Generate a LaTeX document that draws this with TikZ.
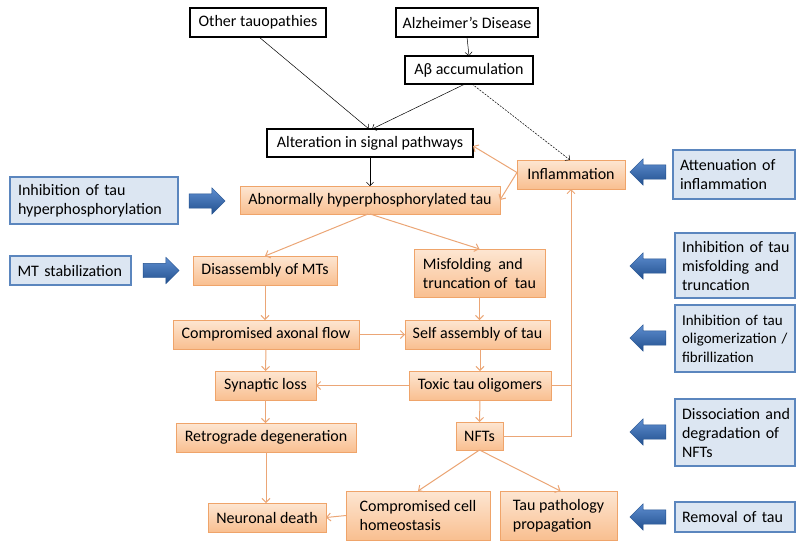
\documentclass[tikz,border=0pt]{standalone}
\usepackage{fontspec}
\setmainfont{Carlito}
\usetikzlibrary{shapes.arrows,arrows.meta,shadows}
\definecolor{obord}{HTML}{EFA46A}
\definecolor{otop}{HTML}{FDE6D2}
\definecolor{obot}{HTML}{F9BF90}
\definecolor{oline}{HTML}{EBA676}
\definecolor{bbord}{HTML}{5B86BE}
\definecolor{bfill}{HTML}{DCE6F2}
\definecolor{barrtop}{HTML}{5E8ED0}
\definecolor{barrbot}{HTML}{22508E}
\begin{document}
\begin{tikzpicture}[x=1pt,y=-1pt,
  every node/.style={font=\fontsize{16}{19}\selectfont, inner sep=0pt, outer sep=0pt},
  blk/.style={draw=black, line width=1.7pt, fill=white},
  obox/.style={draw=obord, line width=0.8pt, top color=otop, bottom color=obot,
    drop shadow={opacity=0.25, shadow xshift=1.2pt, shadow yshift=-1.2pt}},
  bbox/.style={draw=bbord, line width=1.3pt, fill=bfill, align=left, text width=#1},
  barr/.style={single arrow, single arrow head extend=6pt, inner xsep=0pt, inner ysep=7pt, minimum height=36pt,
    top color=barrtop, bottom color=barrbot, draw=barrbot, line width=0.4pt},
  karr/.style={-{Straight Barb[length=3.5pt,width=7pt]}, line width=0.5pt, black},
  oarr/.style={-{Straight Barb[length=4pt,width=8pt]}, line width=1pt, oline},
  oln/.style={line width=1pt, oline}
]
\useasboundingbox (0,0) rectangle (796,542);

% black boxes
\node[blk, minimum width=136pt, minimum height=29pt] (oth) at (258,22.5) {Other tauopathies};
\node[blk, minimum width=142pt, minimum height=29pt] (alz) at (467,22.5) {Alzheimer’s Disease};
\node[blk, minimum width=128pt, minimum height=28pt] (abeta) at (469,70) {Aβ accumulation};
\node[blk, minimum width=206pt, minimum height=28pt] (alt) at (370,143) {Alteration in signal pathways};

% orange boxes
\node[obox, minimum width=108pt, minimum height=29pt] (infl) at (571,174.5) {Inflammation};
\node[obox, minimum width=260pt, minimum height=28pt] (abn) at (370,200) {Abnormally hyperphosphorylated tau};
\node[obox, minimum width=144pt, minimum height=29pt] (dis) at (265,270.5) {Disassembly of MTs};
\node[obox, minimum width=131pt, minimum height=48pt, align=left] (mis) at (479.5,273) {Misfolding~~and\\truncation of~~tau};
\node[obox, minimum width=186pt, minimum height=29pt] (axf) at (266,334.5) {Compromised axonal flow};
\node[obox, minimum width=145pt, minimum height=29pt] (self) at (477.5,334.5) {Self assembly of tau};
\node[obox, minimum width=101pt, minimum height=29pt] (syn) at (265.5,385.5) {Synaptic loss};
\node[obox, minimum width=142pt, minimum height=29pt] (tox) at (480,385.5) {Toxic tau oligomers};
\node[obox, minimum width=180pt, minimum height=29pt] (retro) at (266,437.5) {Retrograde degeneration};
\node[obox, minimum width=47pt, minimum height=28pt] (nft) at (479.5,436) {NFTs};
\node[obox, minimum width=118pt, minimum height=29pt] (death) at (267,517.5) {Neuronal death};
\node[obox, minimum width=144pt, minimum height=49pt, align=left] (cch) at (418,515.5) {Compromised cell\\homeostasis};
\node[obox, minimum width=117pt, minimum height=49pt, align=left] (tpp) at (558.5,515.5) {Tau pathology\\propagation};

% blue boxes
\node[bbox=152pt, minimum width=168pt, minimum height=47pt] (ihyp) at (94,200.5) {Inhibition of tau\\hyperphosphorylation};
\node[bbox=106pt, minimum width=121pt, minimum height=29pt] (mts) at (70.5,270.5) {MT stabilization};
\node[bbox=108pt, minimum width=122pt, minimum height=49pt] (att) at (734,174.5) {Attenuation of\\inflammation};
\node[bbox=106pt, minimum width=120pt, minimum height=65pt] (imis) at (735,265.5) {Inhibition~of~tau\\misfolding~and\\truncation};
\node[bbox=106pt, minimum width=120pt, minimum height=67pt, font=\fontsize{15}{18.5}\selectfont] (iolig) at (735,338.5) {Inhibition~of~tau\\oligomerization~/\\fibrillization};
\node[bbox=106pt, minimum width=120pt, minimum height=67pt] (diss) at (735,432.5) {Dissociation~and\\degradation~of\\NFTs};
\node[bbox=106pt, minimum width=120pt, minimum height=30pt] (rem) at (735,517) {Removal of tau};

% blue block arrows
\node[barr] (ba1) at (203.5,201) {};
\node[barr] (ba2) at (157.5,270.5) {};
\node[barr, shape border rotate=180] (ba3) at (651.5,172) {};
\node[barr, shape border rotate=180] (ba4) at (651.5,266) {};
\node[barr, shape border rotate=180] (ba5) at (651.5,338) {};
\node[barr, shape border rotate=180] (ba6) at (651.5,432) {};
\node[barr, shape border rotate=180] (ba7) at (651.5,517) {};

% black connectors
\draw[karr] ([xshift=1pt]oth.south) -- ([xshift=-1pt]alt.north);
\draw[karr] (alz.south) -- (abeta.north);
\draw[karr] ([xshift=-4pt]abeta.south) -- ([xshift=2pt]alt.north);
\draw[karr, dashed, dash pattern=on 2pt off 1.2pt] ([xshift=3pt]abeta.south) -- ([xshift=-1pt]infl.north);
\draw[karr] (alt.south) -- (abn.north);

% orange connectors
\coordinate (iw) at ([yshift=2pt]infl.west);
\draw[oarr] (iw) -- ([yshift=-3pt]alt.east);
\draw[oarr] (iw) -- (abn.east);
\draw[oarr] ([xshift=-2pt]abn.south) -- (dis.north);
\draw[oarr] (abn.south) -- (mis.north);
\draw[oarr] (dis.south) -- ([xshift=-1pt]axf.north);
\draw[oarr] (mis.south) -- ([xshift=2pt]self.north);
\draw[oarr] (axf.east) -- (self.west);
\draw[oarr] (axf.south) -- (syn.north);
\draw[oarr] ([xshift=2.5pt]self.south) -- (tox.north);
\draw[oarr] (tox.west) -- (syn.east);
\draw[oarr] (tox.south) -- (nft.north);
\draw[oarr] (syn.south) -- ([xshift=-0.5pt]retro.north);
\draw[oarr] (retro.south) -- ([xshift=-1pt]death.north);
\draw[oarr] (nft.south) -- (cch.north);
\draw[oarr] (nft.south) -- ([xshift=2pt]tpp.north);
\draw[oarr] (cch.west) -- (death.east);
\draw[oln] (tox.east) -- (tox.east -| infl.south);
\draw[oarr] (nft.east) -| (infl.south);
\end{tikzpicture}
\end{document}
